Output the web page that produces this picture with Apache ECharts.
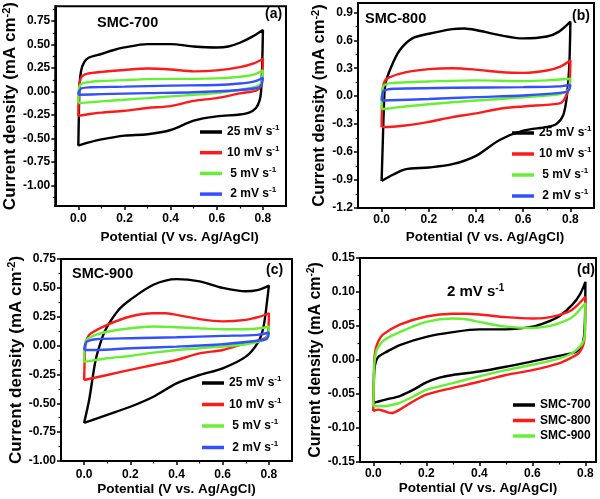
<!DOCTYPE html>
<html>
<head>
<meta charset="utf-8">
<script src="https://cdn.jsdelivr.net/npm/echarts@6/dist/echarts.min.js"></script>
<style>html,body{margin:0;padding:0;background:#fff}#c{width:600px;height:499px}</style>
</head>
<body>
<div id="c"></div>
<script>
// ---------- DATA (potential V, current density mA cm^-2) ----------
const rateNames = ['25 mV s-1', '10 mV s-1', '5 mV s-1', '2 mV s-1'];
const sampleNames = ['SMC-700', 'SMC-800', 'SMC-900'];

// (a) SMC-700
const smc700_25 = [[0,-0.577],[0.002,-0.3],[0.005,0.05],[0.012,0.22],[0.025,0.31],[0.045,0.36],[0.1,0.40],[0.15,0.44],[0.2,0.47],[0.3,0.505],[0.4,0.505],[0.5,0.48],[0.6,0.47],[0.65,0.48],[0.7,0.52],[0.75,0.58],[0.8,0.657],[0.797,0.3],[0.792,0.0],[0.785,-0.1],[0.77,-0.175],[0.74,-0.225],[0.7,-0.245],[0.6,-0.265],[0.5,-0.31],[0.4,-0.41],[0.3,-0.455],[0.2,-0.47],[0.1,-0.51],[0.05,-0.54],[0,-0.577]];
const smc700_10 = [[0,-0.26],[0.002,-0.05],[0.006,0.1],[0.015,0.16],[0.04,0.19],[0.1,0.21],[0.2,0.23],[0.3,0.245],[0.4,0.235],[0.5,0.215],[0.6,0.225],[0.7,0.26],[0.76,0.3],[0.8,0.35],[0.797,0.15],[0.79,0.05],[0.77,0.01],[0.7,-0.02],[0.6,-0.07],[0.5,-0.1],[0.4,-0.155],[0.3,-0.175],[0.2,-0.205],[0.1,-0.225],[0.05,-0.24],[0,-0.26]];
const smc700_5 = [[0,-0.122],[0.002,0.0],[0.008,0.07],[0.03,0.095],[0.1,0.112],[0.2,0.122],[0.3,0.132],[0.4,0.135],[0.5,0.135],[0.6,0.14],[0.7,0.157],[0.76,0.18],[0.8,0.227],[0.795,0.12],[0.785,0.07],[0.75,0.04],[0.7,0.017],[0.6,-0.017],[0.5,-0.035],[0.4,-0.052],[0.3,-0.07],[0.2,-0.087],[0.1,-0.105],[0.03,-0.118],[0,-0.122]];
const smc700_2 = [[0,-0.035],[0.003,0.0],[0.015,0.035],[0.05,0.045],[0.2,0.052],[0.4,0.063],[0.6,0.07],[0.7,0.085],[0.76,0.105],[0.8,0.147],[0.795,0.08],[0.78,0.04],[0.7,0.017],[0.5,-0.007],[0.3,-0.017],[0.1,-0.028],[0,-0.035]];

// (b) SMC-800
const smc800_25 = [[0,-0.91],[0.005,-0.5],[0.01,-0.1],[0.016,0.13],[0.04,0.31],[0.076,0.49],[0.13,0.62],[0.2,0.67],[0.3,0.72],[0.35,0.727],[0.4,0.71],[0.5,0.655],[0.6,0.62],[0.7,0.64],[0.75,0.69],[0.8,0.8],[0.795,0.31],[0.785,0.0],[0.77,-0.2],[0.74,-0.3],[0.7,-0.33],[0.6,-0.37],[0.5,-0.47],[0.4,-0.64],[0.3,-0.73],[0.2,-0.765],[0.1,-0.785],[0.05,-0.84],[0,-0.91]];
const smc800_10 = [[0,-0.33],[0.002,-0.1],[0.006,0.1],[0.015,0.17],[0.03,0.2],[0.1,0.255],[0.2,0.29],[0.3,0.30],[0.4,0.285],[0.5,0.26],[0.6,0.25],[0.7,0.275],[0.76,0.32],[0.8,0.385],[0.797,0.15],[0.79,0.06],[0.77,-0.05],[0.75,-0.08],[0.6,-0.11],[0.5,-0.135],[0.4,-0.185],[0.3,-0.225],[0.2,-0.275],[0.1,-0.315],[0.03,-0.33],[0,-0.33]];
const smc800_5 = [[0,-0.137],[0.002,0.0],[0.008,0.11],[0.04,0.14],[0.2,0.158],[0.4,0.17],[0.6,0.162],[0.7,0.17],[0.8,0.187],[0.797,0.1],[0.79,0.06],[0.75,0.02],[0.7,0.007],[0.5,-0.03],[0.3,-0.065],[0.1,-0.11],[0.02,-0.135],[0,-0.137]];
const smc800_2 = [[0,-0.047],[0.003,0.02],[0.01,0.06],[0.05,0.08],[0.3,0.09],[0.6,0.097],[0.75,0.105],[0.8,0.122],[0.795,0.07],[0.78,0.043],[0.6,0.007],[0.4,-0.01],[0.2,-0.03],[0,-0.047]];

// (c) SMC-900
const smc900_25 = [[0,-0.67],[0.022,-0.47],[0.05,-0.125],[0.08,0.078],[0.1,0.165],[0.15,0.31],[0.2,0.397],[0.3,0.527],[0.4,0.576],[0.5,0.556],[0.6,0.5],[0.7,0.47],[0.75,0.48],[0.8,0.52],[0.793,0.4],[0.777,0.165],[0.755,0.035],[0.7,-0.096],[0.6,-0.197],[0.5,-0.255],[0.4,-0.327],[0.3,-0.443],[0.2,-0.53],[0.1,-0.6],[0,-0.67]];
const smc900_10 = [[0,-0.30],[0.003,-0.1],[0.006,0.0],[0.015,0.07],[0.03,0.107],[0.1,0.18],[0.2,0.252],[0.3,0.28],[0.35,0.28],[0.4,0.266],[0.5,0.229],[0.6,0.21],[0.7,0.223],[0.76,0.25],[0.8,0.28],[0.795,0.1],[0.78,0.06],[0.7,0.02],[0.6,-0.038],[0.5,-0.067],[0.4,-0.125],[0.3,-0.168],[0.2,-0.21],[0.1,-0.255],[0.02,-0.29],[0,-0.3]];
const smc900_5 = [[0,-0.14],[0.003,0.0],[0.01,0.05],[0.05,0.093],[0.1,0.12],[0.2,0.15],[0.3,0.165],[0.4,0.159],[0.5,0.15],[0.6,0.142],[0.7,0.142],[0.76,0.15],[0.8,0.165],[0.795,0.09],[0.78,0.05],[0.7,0.012],[0.5,-0.023],[0.4,-0.038],[0.3,-0.061],[0.2,-0.09],[0.1,-0.11],[0.02,-0.135],[0,-0.14]];
const smc900_2 = [[0,-0.038],[0.005,0.01],[0.012,0.035],[0.05,0.055],[0.2,0.064],[0.4,0.072],[0.6,0.084],[0.75,0.093],[0.8,0.113],[0.795,0.07],[0.78,0.05],[0.6,0.012],[0.4,-0.009],[0.2,-0.023],[0.05,-0.038],[0,-0.038]];

// (d) 2 mV s-1 comparison
const cmp2_700 = [[0,-0.063],[0.002,-0.035],[0.004,-0.015],[0.01,-0.002],[0.02,0.005],[0.05,0.012],[0.1,0.022],[0.2,0.034],[0.3,0.041],[0.4,0.045],[0.5,0.045],[0.6,0.049],[0.65,0.055],[0.7,0.064],[0.75,0.081],[0.78,0.097],[0.8,0.115],[0.799,0.07],[0.796,0.04],[0.79,0.025],[0.775,0.015],[0.75,0.01],[0.7,0.006],[0.6,-0.002],[0.5,-0.01],[0.4,-0.017],[0.3,-0.022],[0.25,-0.026],[0.2,-0.033],[0.15,-0.044],[0.1,-0.053],[0.05,-0.058],[0.02,-0.061],[0,-0.063]];
const cmp2_800 = [[0,-0.075],[0.002,-0.04],[0.004,0.0],[0.01,0.018],[0.02,0.028],[0.035,0.037],[0.1,0.052],[0.2,0.064],[0.3,0.068],[0.35,0.068],[0.4,0.067],[0.5,0.063],[0.6,0.061],[0.65,0.062],[0.7,0.066],[0.75,0.074],[0.8,0.093],[0.799,0.05],[0.796,0.03],[0.79,0.02],[0.775,0.01],[0.75,0.004],[0.7,-0.005],[0.6,-0.015],[0.5,-0.022],[0.4,-0.032],[0.3,-0.041],[0.2,-0.051],[0.15,-0.061],[0.1,-0.073],[0.07,-0.078],[0.04,-0.075],[0.02,-0.073],[0,-0.075]];
const cmp2_900 = [[0,-0.068],[0.002,-0.03],[0.004,-0.005],[0.01,0.01],[0.016,0.017],[0.04,0.029],[0.1,0.041],[0.2,0.056],[0.3,0.061],[0.35,0.06],[0.4,0.056],[0.5,0.049],[0.6,0.047],[0.65,0.049],[0.7,0.054],[0.75,0.063],[0.8,0.084],[0.799,0.05],[0.795,0.03],[0.78,0.02],[0.75,0.01],[0.7,0.002],[0.6,-0.007],[0.5,-0.015],[0.4,-0.024],[0.3,-0.034],[0.2,-0.044],[0.15,-0.054],[0.1,-0.063],[0.07,-0.066],[0.04,-0.068],[0,-0.068]];

// ---------- TICKS ----------
const xTicks = [0, 0.2, 0.4, 0.6, 0.8];
const xMinor = [0.1, 0.3, 0.5, 0.7];
const yTicksA = [-1, -0.75, -0.5, -0.25, 0, 0.25, 0.5, 0.75];
const yMinorA = [-1.125, -0.875, -0.625, -0.375, -0.125, 0.125, 0.375, 0.625, 0.875];
const yTicksB = [-1.2, -0.9, -0.6, -0.3, 0, 0.3, 0.6, 0.9];
const yMinorB = [-1.05, -0.75, -0.45, -0.15, 0.15, 0.45, 0.75];
const yTicksC = [-1, -0.75, -0.5, -0.25, 0, 0.25, 0.5, 0.75];
const yMinorC = [-0.875, -0.625, -0.375, -0.125, 0.125, 0.375, 0.625];
const yTicksD = [-0.15, -0.1, -0.05, 0, 0.05, 0.1, 0.15];
const yMinorD = [-0.125, -0.075, -0.025, 0.025, 0.075, 0.125];

// ---------- BUILD ----------
const COL = {black: '#000000', red: '#ff1a1a', green: '#66f033', blue: '#3350ff'};
const rateColors = [COL.black, COL.red, COL.green, COL.blue];
const sampleColors = [COL.black, COL.red, COL.green];
const FONT = '"Liberation Sans", Arial, sans-serif';

const grids = [
  {left: 53, top: 3, width: 233, height: 203},
  {left: 358, top: 3, width: 236, height: 205},
  {left: 61, top: 259, width: 231, height: 202},
  {left: 360, top: 258, width: 236, height: 204}
];
const xRange = [[-0.1, 0.9], [-0.1, 0.9], [-0.1, 0.9], [-0.05, 0.84]];
const yRange = [[-1.22, 0.91], [-1.2, 1.0], [-1.0, 0.75], [-0.15, 0.15]];
const yTicks = [yTicksA, yTicksB, yTicksC, yTicksD];
const yMinor = [yMinorA, yMinorB, yMinorC, yMinorD];
const yDec = [2, 1, 2, 2];
const xNameGap = [24, 22, 21, 19];
const xNamePad = [[0,0,0,18],[0,0,0,18],[0,0,0,0],[0,0,0,0]];
const xLabelMargin = [7, 6, 8, 6];
const yNameGap = [29, 29, 33, 33];
const yNameSize = [17, 16.5, 17, 16];

const xAxes = [], yAxes = [];
grids.forEach((g, i) => {
  xAxes.push({
    type: 'value', gridIndex: i, position: 'bottom', min: xRange[i][0], max: xRange[i][1],
    axisLine: {show: true, onZero: false, lineStyle: {color: '#000', width: 2}},
    axisTick: {show: true, customValues: xTicks, length: 4, lineStyle: {color: '#000', width: 1.5}},
    axisLabel: {show: true, customValues: xTicks, formatter: v => (+v).toFixed(1), color: '#000', fontWeight: 'bold', fontSize: 12, fontFamily: FONT, margin: xLabelMargin[i]},
    splitLine: {show: false},
    name: 'Potential (V vs. Ag/AgCl)', nameLocation: 'middle', nameGap: xNameGap[i],
    nameTextStyle: {color: '#000', fontWeight: 'bold', fontSize: 13.5, fontFamily: FONT, padding: xNamePad[i]}
  });
  xAxes.push({
    type: 'value', gridIndex: i, position: 'bottom', min: xRange[i][0], max: xRange[i][1],
    axisLine: {show: false, onZero: false},
    axisTick: {show: true, customValues: xMinor, length: 2.5, lineStyle: {color: '#000', width: 1.2}},
    axisLabel: {show: false}, splitLine: {show: false}
  });
  yAxes.push({
    type: 'value', gridIndex: i, position: 'left', min: yRange[i][0], max: yRange[i][1],
    axisLine: {show: true, onZero: false, lineStyle: {color: '#000', width: 2}},
    axisTick: {show: true, customValues: yTicks[i], length: 4, lineStyle: {color: '#000', width: 1.5}},
    axisLabel: {show: true, customValues: yTicks[i], formatter: v => (+v).toFixed(yDec[i]), color: '#000', fontWeight: 'bold', fontSize: 12, fontFamily: FONT, margin: 5},
    splitLine: {show: false},
    name: '{a|Current density (mA cm}{s|-2}{a|)}', nameLocation: 'middle', nameGap: yNameGap[i],
    nameTextStyle: {color: '#000', fontWeight: 'bold', fontSize: yNameSize[i], fontFamily: FONT,
      rich: {a: {fontSize: yNameSize[i], fontWeight: 'bold', fontFamily: FONT, color: '#000', lineHeight: yNameSize[i] + 2},
             s: {fontSize: Math.round(yNameSize[i] * 0.65), fontWeight: 'bold', fontFamily: FONT, color: '#000', verticalAlign: 'top', lineHeight: yNameSize[i] + 2}}}
  });
  yAxes.push({
    type: 'value', gridIndex: i, position: 'left', min: yRange[i][0], max: yRange[i][1],
    axisLine: {show: false, onZero: false},
    axisTick: {show: true, customValues: yMinor[i], length: 2.5, lineStyle: {color: '#000', width: 1.2}},
    axisLabel: {show: false}, splitLine: {show: false}
  });
});

const panelData = [
  [smc700_25, smc700_10, smc700_5, smc700_2],
  [smc800_25, smc800_10, smc800_5, smc800_2],
  [smc900_25, smc900_10, smc900_5, smc900_2],
  [cmp2_700, cmp2_800, cmp2_900]
];
const series = [];
panelData.forEach((arr, i) => {
  arr.forEach((d, k) => {
    const name = i < 3 ? rateNames[k] : sampleNames[k];
    const color = i < 3 ? rateColors[k] : sampleColors[k];
    series.push({
      type: 'line', name, xAxisIndex: 2 * i, yAxisIndex: 2 * i, data: d,
      showSymbol: false, symbol: 'none', smooth: 0.3,
      lineStyle: {color, width: 2.4}, itemStyle: {color}, z: 2 + k
    });
  });
});

const legendRich = {
  t: {fontSize: 12, fontWeight: 'bold', fontFamily: FONT, color: '#000', lineHeight: 16},
  s: {fontSize: 8, fontWeight: 'bold', fontFamily: FONT, color: '#000', verticalAlign: 'top', lineHeight: 16}
};
function legendFmt(name) {
  if (name.endsWith(' s-1')) {
    const lead = (name.startsWith('5 ') || name.startsWith('2 ')) ? ' ' : '';
    return '{t|' + lead + name.replace(' s-1', ' s') + '}{s|-1}';
  }
  return '{t|' + name + '}';
}
function mkLegend(left, top, names, gap, lh) {
  return {
    left, top, orient: 'vertical', data: names, icon: 'rect', itemWidth: 22, itemHeight: 3.5,
    itemGap: gap, padding: 0, selectedMode: false, formatter: legendFmt,
    textStyle: {fontSize: 12, fontWeight: 'bold', fontFamily: FONT, color: '#000', lineHeight: lh,
      rich: {t: Object.assign({}, legendRich.t, {lineHeight: lh}), s: Object.assign({}, legendRich.s, {lineHeight: lh})}}
  };
}

function label(left, y, text, size) {
  return {type: 'text', left, top: y - size * 0.6, z: 100,
    style: {text, fill: '#000', font: 'bold ' + size + 'px ' + FONT}};
}
const supRich = {
  t: {fontSize: 15, fontWeight: 'bold', fontFamily: FONT, fill: '#000', lineHeight: 18},
  s: {fontSize: 10, fontWeight: 'bold', fontFamily: FONT, fill: '#000', verticalAlign: 'top', lineHeight: 18}
};

const option = {
  animation: false,
  backgroundColor: '#fff',
  grid: grids.map(g => Object.assign({show: true, borderColor: '#000', borderWidth: 2, backgroundColor: 'transparent', containLabel: false}, g)),
  xAxis: xAxes,
  yAxis: yAxes,
  legend: [
    mkLegend(200, 124, rateNames, 4.7, 16),
    mkLegend(512, 125, rateNames, 5, 16),
    mkLegend(202, 375, rateNames, 5.5, 16),
    mkLegend(513, 398, sampleNames, 1.5, 14)
  ],
  graphic: [
    label(97, 24, 'SMC-700', 14.5),
    label(265, 16, '(a)', 14),
    label(365, 20.5, 'SMC-800', 14.5),
    label(572, 17.5, '(b)', 14),
    label(72, 275, 'SMC-900', 14.5),
    label(266, 272, '(c)', 14),
    {type: 'text', left: 447, top: 283, z: 100, style: {text: '{t|2 mV s}{s|-1}', rich: supRich, fill: '#000'}},
    label(577, 272, '(d)', 14)
  ],
  series
};

const chart = echarts.init(document.getElementById('c'), null, {renderer: 'canvas'});
chart.setOption(option);
</script>
</body>
</html>
